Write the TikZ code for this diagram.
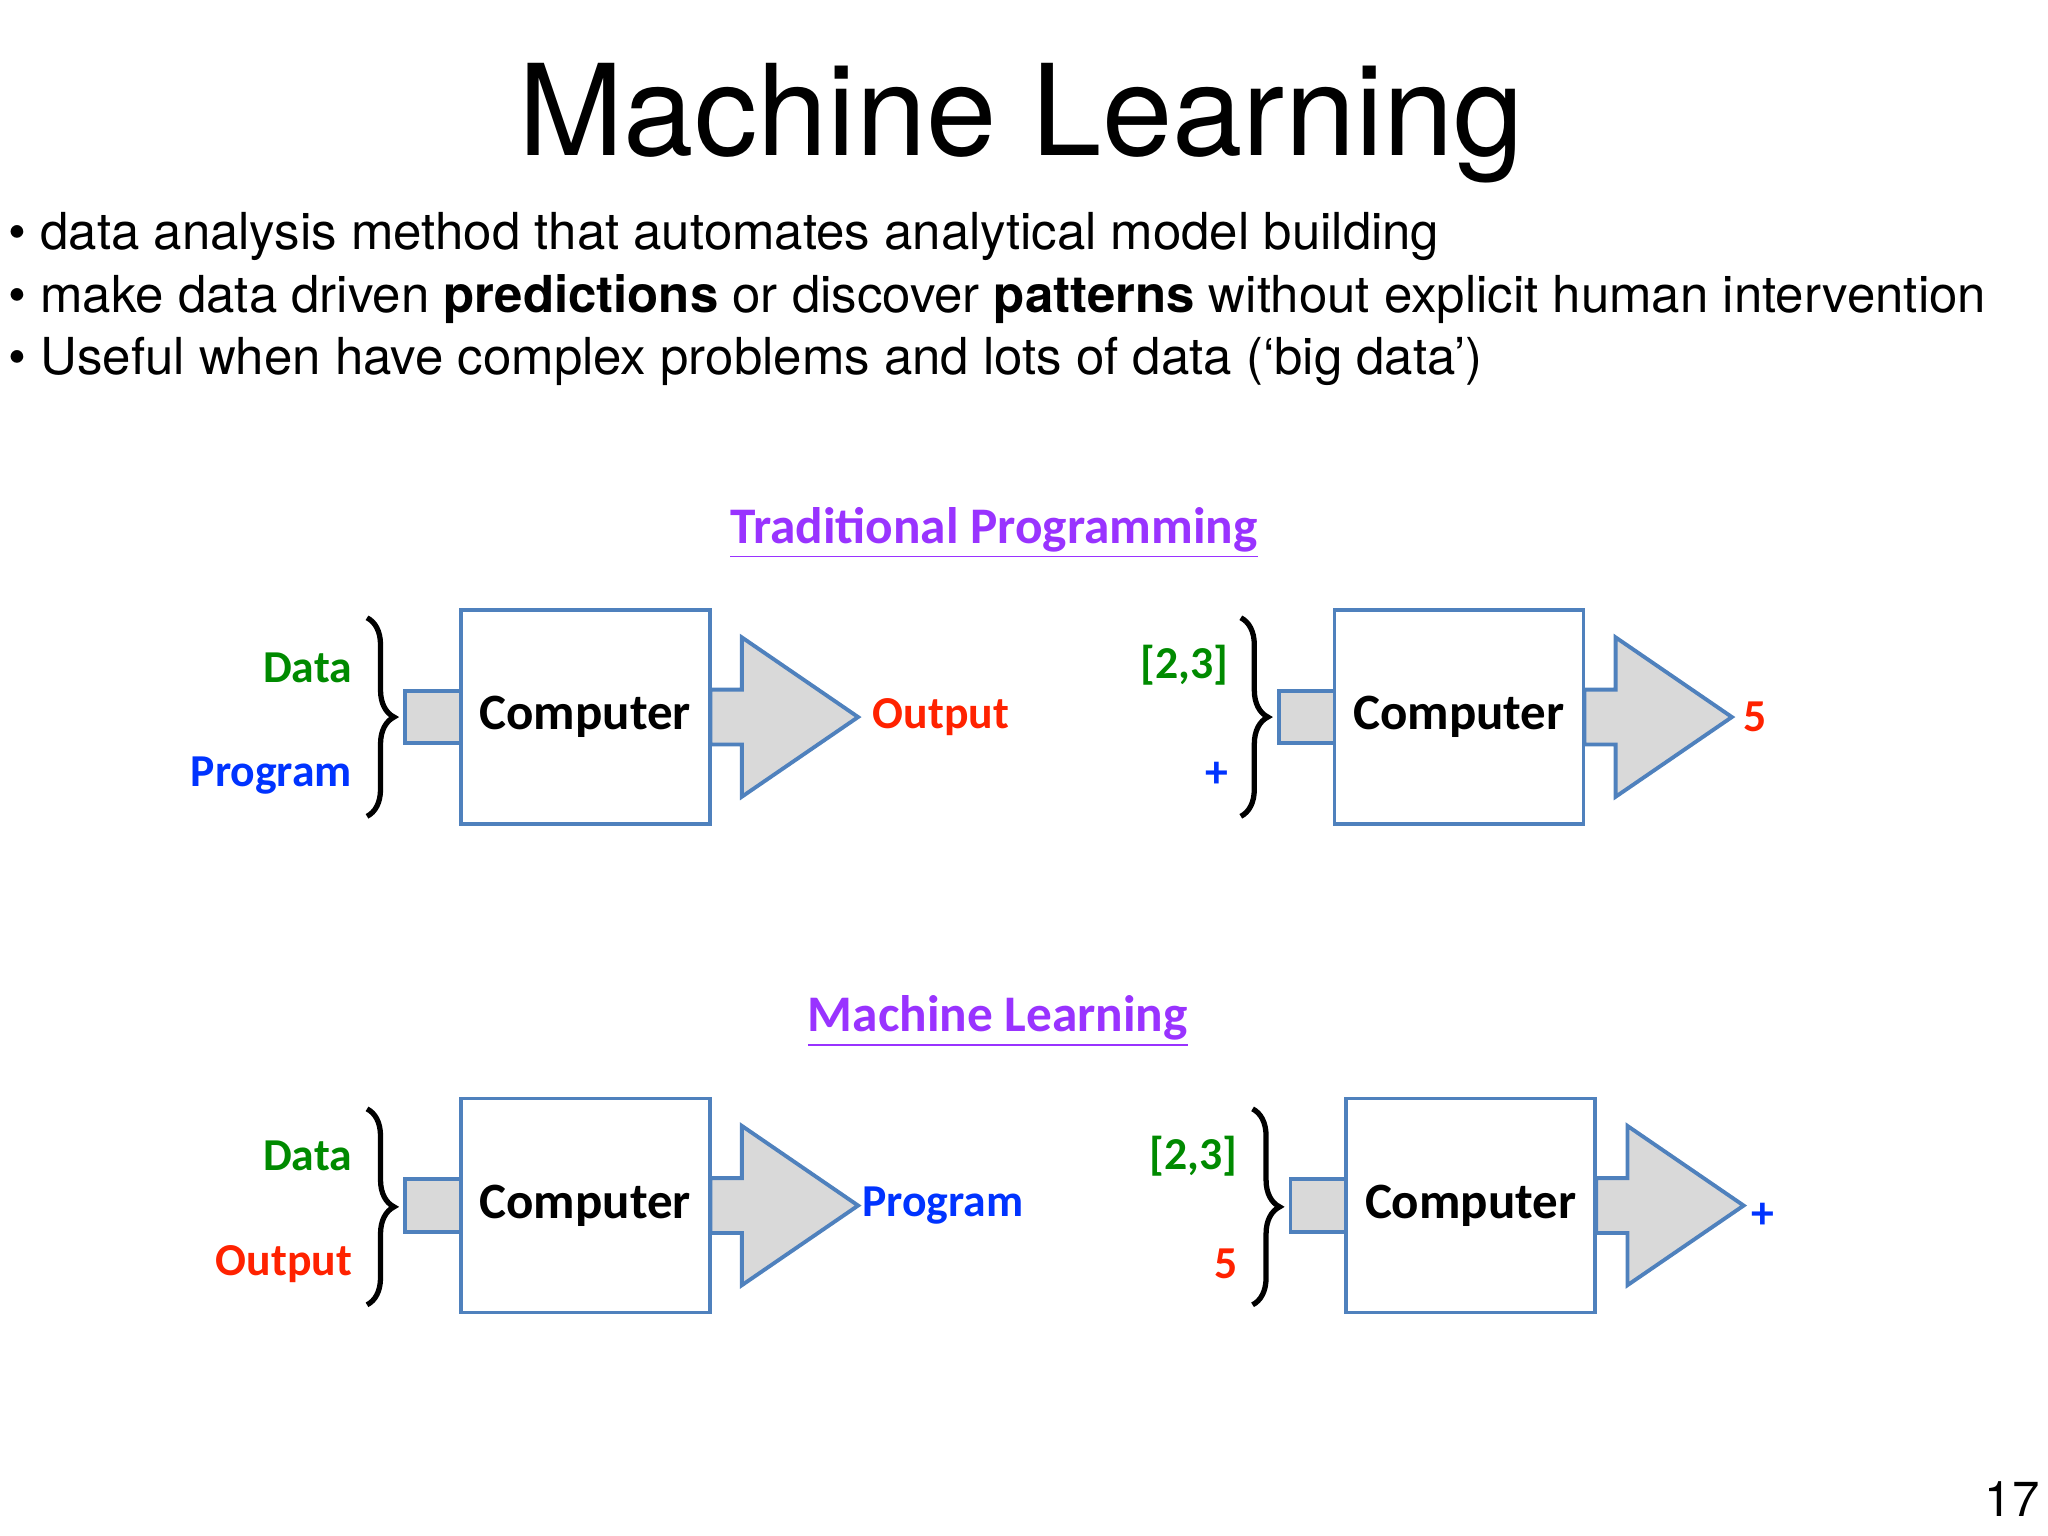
\documentclass[tikz,border=0pt]{standalone}
\usepackage{fontspec}
\setmainfont{TeX Gyre Heros}
\newfontfamily\carl{Carlito}
\usetikzlibrary{decorations.pathreplacing}
\definecolor{bl}{HTML}{4F81BD}
\definecolor{gr}{HTML}{D9D9D9}
\definecolor{pur}{HTML}{9933FF}
\definecolor{dg}{HTML}{008A00}
\definecolor{db}{HTML}{0033FF}
\definecolor{rd}{HTML}{FF2200}
\tikzset{
 box/.style={draw=bl,line width=1.1pt,fill=white,minimum width=2.49cm,minimum height=2.14cm,inner sep=0pt,font=\carl\bfseries\fontsize{14.5}{17}\selectfont},
 part/.style={draw=bl,line width=1.1pt,fill=gr},
 lab/.style={font=\carl\bfseries\fontsize{13}{15}\selectfont,inner sep=0pt},
 br/.style={decorate,decoration={brace,amplitude=0.27cm},line width=1.5pt},
 head/.style={font=\carl\bfseries\fontsize{14.6}{17}\selectfont,text=pur,inner sep=1pt},
}
\newcommand\mlunit[3]{%
 \draw[part] (#2,#3-20) rectangle (#2+44,#3+20);
 \draw[part] (#2+234,#3-21) -- (#2+258,#3-21) -- (#2+258,#3-61) -- (#2+347,#3) -- (#2+258,#3+61) -- (#2+258,#3+21) -- (#2+234,#3+21) -- cycle;
 \node[box] (#1) at (#2+138,#3) {Computer};
 \coordinate (#1tip) at (#2+347,#3);
}
\begin{document}
\begin{tikzpicture}[x=0.01306cm,y=-0.01306cm]
\useasboundingbox (0,0) rectangle (1568,1176);
\node[font=\fontsize{36}{40}\selectfont] (title) at (782,94) {Machine Learning};
\begin{scope}[every node/.style={anchor=west,inner sep=0pt,font=\fontsize{14.5}{17}\selectfont}]
\node (b1) at (6,181) {\textbullet\ data analysis method that automates analytical model building};
\node (b2) at (6,229) {\textbullet\ make data driven \textbf{predictions} or discover \textbf{patterns} without explicit human intervention};
\node (b3) at (6,277) {\textbullet\ Useful when have complex problems and lots of data (‘big data’)};
\end{scope}
\node[head] (h1) at (761,408) {\underline{Traditional Programming}};
\node[head] (h2) at (764,782) {\underline{Machine Learning}};
\mlunit{c1}{310}{549}
\mlunit{c2}{979}{549}
\mlunit{c3}{310}{923}
\mlunit{c4}{988}{923}
\draw[br] (281,473) -- (281,625);
\draw[br] (950,473) -- (950,625);
\draw[br] (281,849) -- (281,999);
\draw[br] (959,849) -- (959,999);
\node[lab,text=dg,anchor=east] (d1) at (270,511) {Data};
\node[lab,text=db,anchor=east] (p1) at (270,594) {Program};
\node[lab,text=rd,anchor=west] (o1) at ([xshift=4pt]c1tip) {Output};
\node[lab,text=dg,anchor=east] (d2) at (941,509) {[2,3]};
\node[lab,text=db,anchor=east] (p2) at (941,593) {+};
\node[lab,text=rd,anchor=west] (o2) at ([xshift=3pt]c2tip) {5};
\node[lab,text=dg,anchor=east] (d3) at (270,885) {Data};
\node[lab,text=rd,anchor=east] (p3) at (270,968) {Output};
\node[lab,text=db,anchor=west] (o3) at ([xshift=1pt]c3tip) {Program};
\node[lab,text=dg,anchor=east] (d4) at (948,885) {[2,3]};
\node[lab,text=rd,anchor=east] (p4) at (948,968) {5};
\node[lab,text=db,anchor=west] (o4) at ([xshift=2pt,yshift=-3pt]c4tip) {+};
\node[anchor=east,font=\fontsize{14}{16}\selectfont,inner sep=0pt] (pg) at (1562,1148) {17};
\end{tikzpicture}
\end{document}
